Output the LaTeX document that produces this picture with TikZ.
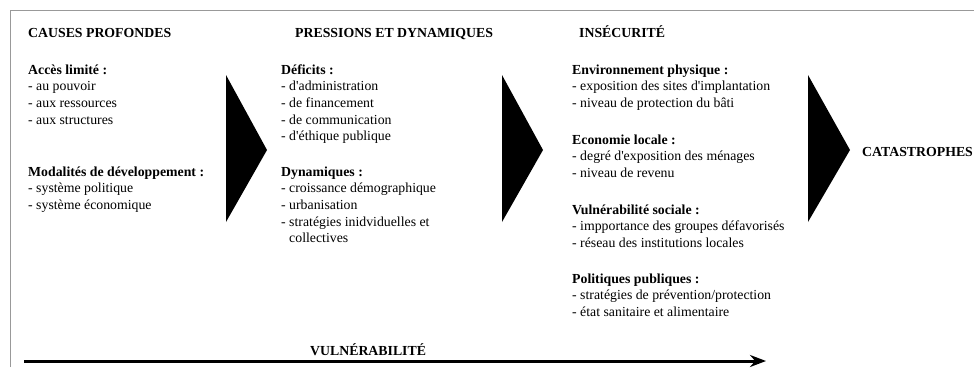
\documentclass[tikz,border=0pt]{standalone}
\usepackage{fontspec}
\setmainfont{Liberation Serif}[Ligatures=TeXOff]
\usetikzlibrary{arrows.meta}
\begin{document}
\begin{tikzpicture}[x=1pt,y=-1pt,
  txt/.style={anchor=base west, inner sep=0pt, align=left,
    font=\fontsize{13.8}{16.7}\selectfont},
  head/.style={txt, font=\fontsize{13.8}{16.7}\selectfont\bfseries},
  tri/.style={fill=black},
  frame/.style={draw=black!40, line width=1pt},
  axis/.style={line width=3pt, -{Stealth[length=16pt,width=12pt]}}]
\useasboundingbox (0,0) rectangle (974,367);
\clip (0,0) rectangle (974,367);
\draw[frame] (10,367) -- (10,10) -- (974,10);
% column 1 (multi-line nodes are placed by the baseline of their last line)
\node[head] (h1) at (28,37) {CAUSES PROFONDES};
\node[txt] (c1a) at (28,124.1) {\textbf{Accès limité :}\\- au pouvoir\\- aux ressources\\- aux structures};
\node[txt] (c1b) at (28,209.4) {\textbf{Modalités de développement :}\\- système politique\\- système économique};
% column 2
\node[head] (h2) at (295,37) {PRESSIONS ET DYNAMIQUES};
\node[txt] (c2a) at (281,140.8) {\textbf{Déficits :}\\- d'administration\\- de financement\\- de communication\\- d'éthique publique};
\node[txt] (c2b) at (281,242.8) {\textbf{Dynamiques :}\\- croissance démographique\\- urbanisation\\- stratégies inidviduelles et\\\hphantom{- }collectives};
% column 3
\node[head] (h3) at (579,37) {INSÉCURITÉ};
\node[txt] (c3a) at (572,107.4) {\textbf{Environnement physique :}\\- exposition des sites d'implantation\\- niveau de protection du bâti};
\node[txt] (c3b) at (572,177.4) {\textbf{Economie locale :}\\- degré d'exposition des ménages\\- niveau de revenu};
\node[txt] (c3c) at (572,247.4) {\textbf{Vulnérabilité sociale :}\\- impportance des groupes défavorisés\\- réseau des institutions locales};
\node[txt] (c3d) at (572,316.4) {\textbf{Politiques publiques :}\\- stratégies de prévention/protection\\- état sanitaire et alimentaire};
% result
\node[head] (cat) at (862,156) {CATASTROPHES};
% triangles
\fill[tri] (226,75) -- (267,150) -- (226,222) -- cycle;
\fill[tri] (502,75) -- (543,150) -- (502,222) -- cycle;
\fill[tri] (808,75) -- (850,150) -- (808,222) -- cycle;
% vulnerability axis
\node[head] (vul) at (310,355) {VULNÉRABILITÉ};
\coordinate (a0) at (24,361);
\coordinate (a1) at (766,361);
\draw[axis] (a0) -- (a1);
\end{tikzpicture}
\end{document}
